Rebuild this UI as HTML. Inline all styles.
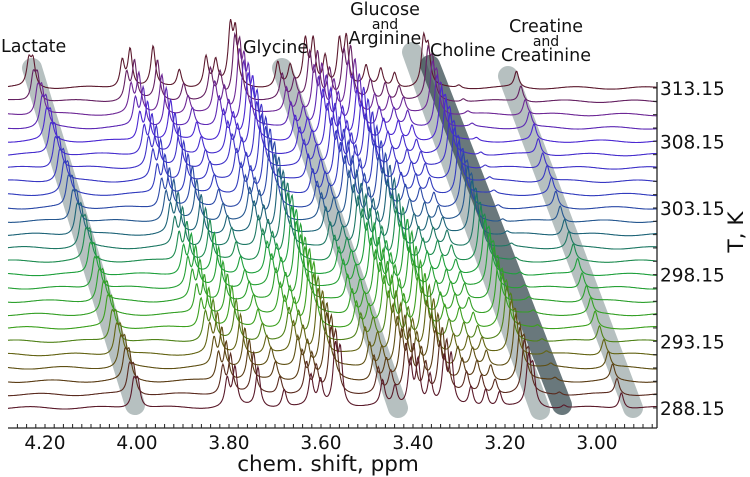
<!DOCTYPE html>
<html><head><meta charset="utf-8"><style>
body{margin:0;background:#fff;}
svg{display:block;font-family:"DejaVu Sans","Liberation Sans",sans-serif;}
</style></head><body>
<svg id="chart" width="750" height="477" viewBox="0 0 750 477">
<g id="bands"></g>
<g id="traces"></g>
<g id="axes"></g>
<g font-size="17.5" fill="#111">
<text x="1" y="52">Lactate</text>
<text x="243" y="53">Glycine</text>
<text x="385" y="15" text-anchor="middle">Glucose</text>
<text x="385" y="29" text-anchor="middle" font-size="14">and</text>
<text x="385" y="44" text-anchor="middle">Arginine</text>
<text x="430" y="56">Choline</text>
<text x="546" y="32" text-anchor="middle">Creatine</text>
<text x="546" y="46" text-anchor="middle" font-size="14">and</text>
<text x="546" y="61" text-anchor="middle">Creatinine</text>
</g>
</svg>
<script>
const xTicks=[4.20,4.00,3.80,3.60,3.40,3.20,3.00];
const yTickLabels=["313.15","308.15","303.15","298.15","293.15","288.15"];
const yTickRows=[0,4,9,14,19,24];
const rowCount=25;
const peakPpm=[4.235,4.226,4.032,4.015,3.965,3.908,3.85,3.829,3.797,3.786,3.694,3.667,3.634,3.617,3.591,3.560,3.545,3.502,3.470,3.440,3.377,3.367,3.300,3.175];
const peakHeight=[25,25,27,38,40,18,30,25,55,52,25,20,45,45,30,45,48,20,18,15,45,35,3,16];
const shiftPerRow=0.0095;
const bandStart=[[32,68],[282,68],[412,52],[430,65],[508,76]];
const NS="http://www.w3.org/2000/svg";
const X0=45,PX=460,ROW0=88,ROWH=13.33,XL=8,XR=657,AXY=428;
function xs(p){return X0+(4.20-p)*PX;}
function ys(r){return ROW0+r*ROWH;}
function mk(t,a,parent){const e=document.createElementNS(NS,t);for(const k in a)e.setAttribute(k,a[k]);parent.appendChild(e);return e;}
const bandEnd=[[135,405],[398,408],[540,410],[562,405],[633,408]];
const bg=document.getElementById('bands');
bandStart.forEach((s,i)=>{
 const l=mk('line',{x1:s[0],y1:s[1],x2:bandEnd[i][0],y2:bandEnd[i][1],stroke:i==3?'rgba(55,75,80,0.75)':'rgba(110,130,130,0.5)','stroke-width':20,'stroke-linecap':'round'},bg);
 
 
});
const stops=[[0,[92,26,46]],[2,[110,40,150]],[4,[75,40,210]],[8,[50,60,190]],[11,[30,100,120]],[14,[30,160,60]],[18,[60,160,30]],[20,[100,100,20]],[22,[90,60,20]],[24,[90,26,42]]];
function col(r){for(let i=0;i<stops.length-1;i++){const a=stops[i],b=stops[i+1];if(r>=a[0]&&r<=b[0]){const t=(r-a[0])/(b[0]-a[0]);const c=a[1].map((v,j)=>Math.round(v+(b[1][j]-v)*t));return `rgb(${c})`;}}return 'rgb(90,26,42)';}
const tg=document.getElementById('traces');
for(let r=0;r<rowCount;r++){
 const base=ys(r),sh=r*shiftPerRow;let d='';
 for(let x=XL;x<=XR;x+=0.7){
  const p=4.20-(x-X0)/PX;let h=0;
  for(let k=0;k<peakPpm.length;k++){const dx=(p-(peakPpm[k]-sh))*PX/2.6;h+=peakHeight[k]/(1+dx*dx);}
  h+=1.2*Math.sin(x*0.09+r);
  d+=(d?'L':'M')+x.toFixed(1)+','+(base-h).toFixed(1);
 }
 const pth=mk('path',{d:d,fill:'none',stroke:col(r),'stroke-width':1.1},tg);
 
 
}
const ag=document.getElementById('axes');
const xa=mk('line',{x1:XL,y1:AXY,x2:XR,y2:AXY,stroke:'#222','stroke-width':1.3},ag);


const ya=mk('line',{x1:XR,y1:ys(0)-6,x2:XR,y2:AXY,stroke:'#222','stroke-width':1.3},ag);


for(let p=4.26;p>=2.87;p-=0.02){const x=xs(p);if(x<XL||x>XR)continue;mk('line',{x1:x,y1:AXY,x2:x,y2:AXY-4,stroke:'#222','stroke-width':1},ag);}
xTicks.forEach(v=>{
 const t=mk('text',{x:xs(v),y:AXY+21,'text-anchor':'middle','font-size':18.5,fill:'#111'},ag);t.textContent=v.toFixed(2);
 
 
});
for(let r=0;r<rowCount;r++){mk('line',{x1:XR,y1:ys(r),x2:XR-4,y2:ys(r),stroke:'#222','stroke-width':1},ag);}
yTickLabels.forEach((s,i)=>{
 const t=mk('text',{x:XR+3,y:ys(yTickRows[i])+7,'font-size':18.5,fill:'#111'},ag);t.textContent=s;
 
 
});
const xt=mk('text',{x:328,y:471,'text-anchor':'middle','font-size':21.5,fill:'#111'},ag);xt.textContent='chem. shift, ppm';


const yt=mk('text',{x:743,y:232,'text-anchor':'middle','font-size':21.5,fill:'#111',transform:'rotate(-90 743 232)'},ag);yt.textContent='T, K';


</script>
</body></html>
